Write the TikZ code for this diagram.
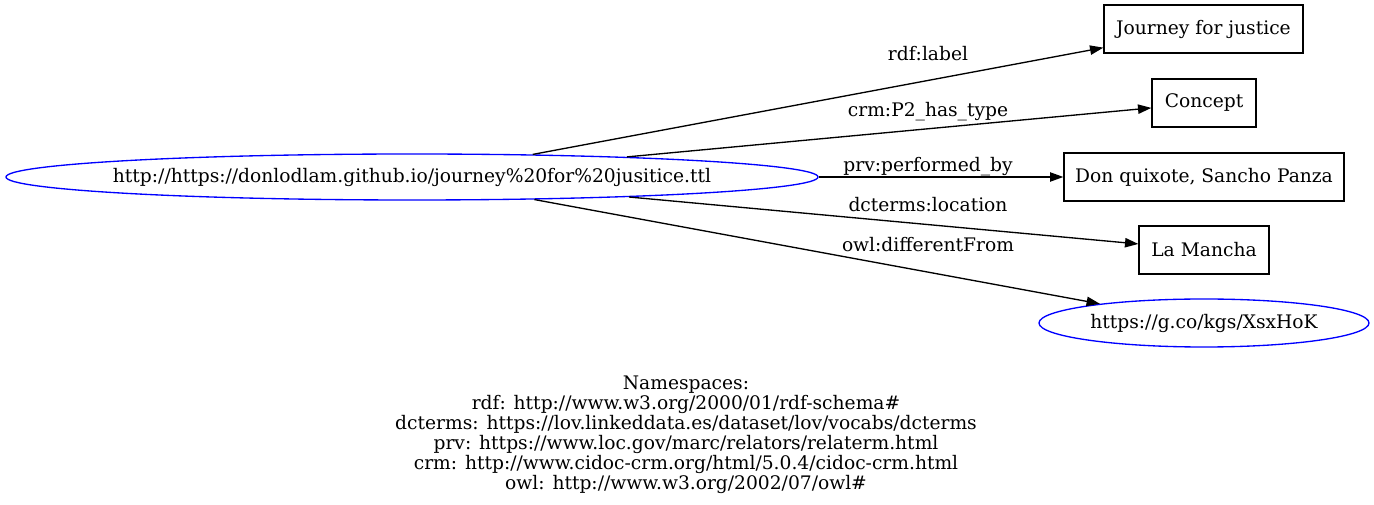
\documentclass[tikz,border=0pt]{standalone}
\usepackage{fontspec}
\setmainfont{DejaVu Serif}
\usetikzlibrary{arrows.meta,shapes.geometric}
\begin{document}
\begin{tikzpicture}[x=0.75pt,y=-0.75pt,
  every node/.style={font=\fontsize{14pt}{15pt}\selectfont, inner sep=0pt},
  uri/.style={draw=blue, line width=1pt, ellipse},
  lit/.style={draw=black, line width=1pt, rectangle, minimum height=36pt},
  rel/.style={draw=black, line width=1pt, -{Triangle[length=10pt,width=7pt]}, shorten >=0pt},
  lbl/.style={anchor=base}]
\useasboundingbox (0,0) rectangle (1374,505);
\node[uri, minimum width=609pt, minimum height=34.5pt] (main) at (412,177) {\makebox[0pt]{http://https://donlodlam.github.io/journey\%20for\%20jusitice.ttl}};
\node[lit, minimum width=149.25pt] (journey) at (1203.5,29) {Journey for justice};
\node[lit, minimum width=78pt] (concept) at (1204,103) {Concept};
\node[lit, minimum width=210pt] (don) at (1204,177) {Don quixote, Sancho Panza};
\node[lit, minimum width=97.5pt] (mancha) at (1204,250) {La Mancha};
\node[uri, minimum width=247.5pt, minimum height=36pt] (kgs) at (1204,323) {\makebox[0pt]{https://g.co/kgs/XsxHoK}};
\draw[rel] (main) -- (journey);
\draw[rel] (main) -- (concept);
\draw[rel] (main.east) -- (don);
\draw[rel] (main) -- (mancha);
\draw[rel] (main) -- (kgs);
\node[lbl] (l1) at (928,61) {rdf:label};
\node[lbl] (l2) at (928,117) {crm:P2\_has\_type};
\node[lbl] (l3) at (928,172) {prv:performed\_by};
\node[lbl] (l4) at (928,212) {dcterms:location};
\node[lbl] (l5) at (928,252) {owl:differentFrom};
\node[anchor=north, align=center] (ns) at (686,375.5) {Namespaces:\\
rdf: http://www.w3.org/2000/01/rdf-schema\#\\
dcterms: https://lov.linkeddata.es/dataset/lov/vocabs/dcterms\\
prv: https://www.loc.gov/marc/relators/relaterm.html\\
crm: http://www.cidoc-crm.org/html/5.0.4/cidoc-crm.html\\
owl: http://www.w3.org/2002/07/owl\#};
\end{tikzpicture}
\end{document}
